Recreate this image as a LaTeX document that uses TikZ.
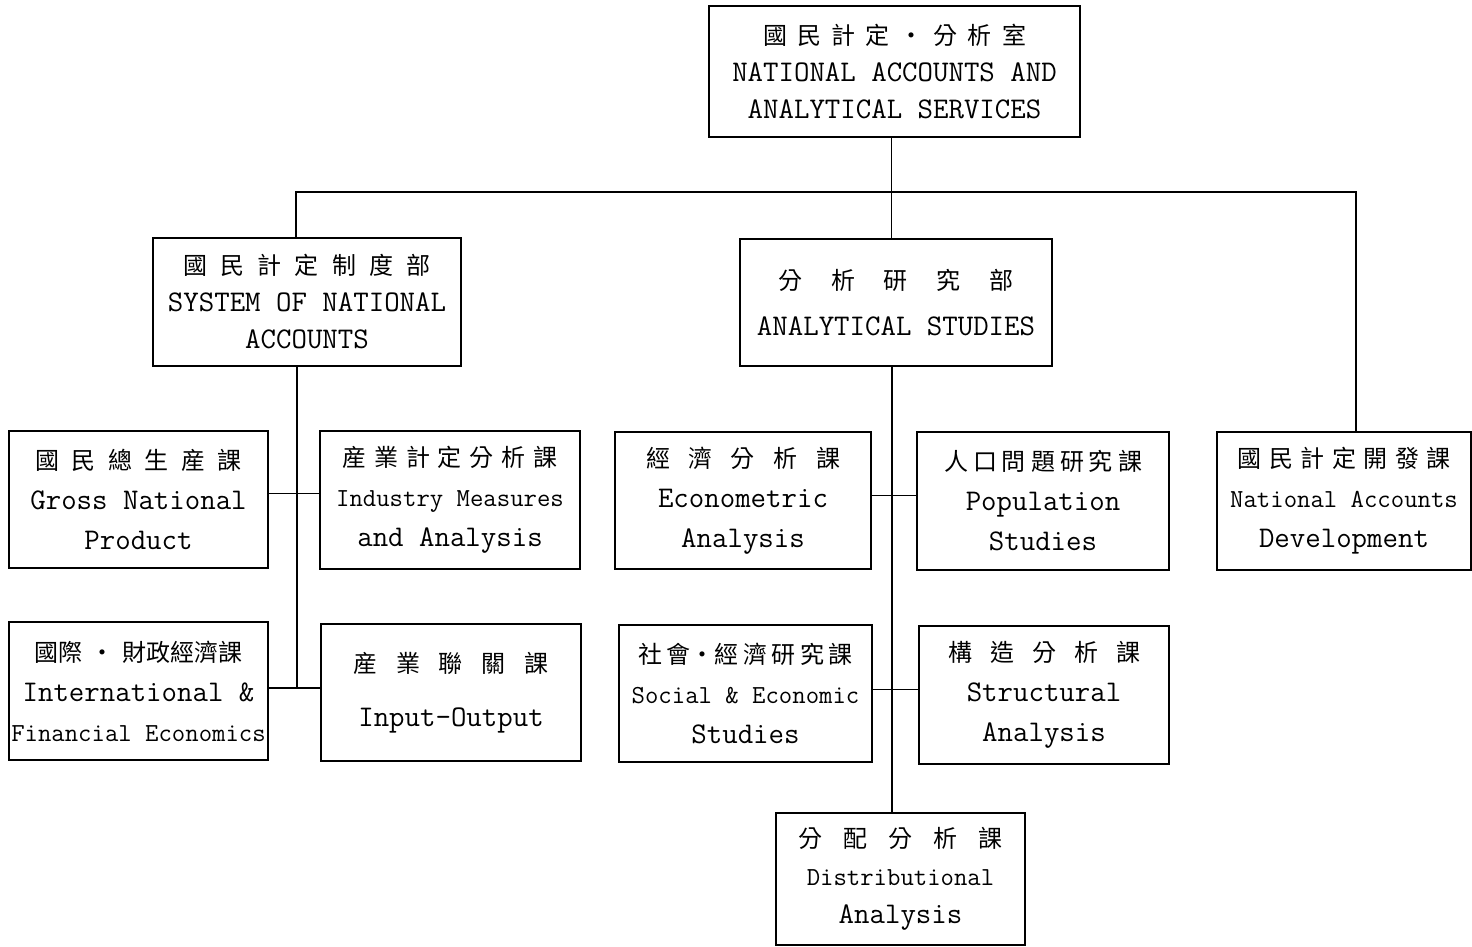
\documentclass[tikz,border=0pt]{standalone}
\usepackage{fontspec}
\newfontfamily\cjkfont{Noto Sans CJK TC}
\newcommand\hanja[2]{{\cjkfont\fontsize{24}{40}\selectfont\spaceskip=0pt plus 1fil\xspaceskip=0pt plus 1fil\makebox[#1][s]{#2}}}
\newcommand\narrow{\fontsize{26}{40}\selectfont}
\tikzset{unit/.style={draw, line width=1.2pt, inner sep=0pt, align=center, font=\ttfamily\fontsize{30}{40}\selectfont}}
\begin{document}
\begin{tikzpicture}[x=1pt, y=-1pt, line width=1.2pt]
\useasboundingbox (0,0) rectangle (1472,946);
\coordinate (bus) at (0,192);
\node[unit, minimum width=371, minimum height=131, font=\ttfamily\fontsize{30}{37}\selectfont] (top) at (894.5,71.5){\hanja{263pt}{國 民 計 定 ・ 分 析 室}\\NATIONAL ACCOUNTS AND\\ANALYTICAL SERVICES};
\node[unit, minimum width=308, minimum height=128, font=\ttfamily\fontsize{30}{37}\selectfont] (sna) at (307,302){\hanja{247pt}{國 民 計 定 制 度 部}\\SYSTEM OF NATIONAL\\ACCOUNTS};
\node[unit, minimum width=312, minimum height=127, font=\ttfamily\fontsize{30}{46}\selectfont] (as) at (896,302.5){\hanja{235pt}{分 析 研 究 部}\\ANALYTICAL STUDIES};
\node[unit, minimum width=259, minimum height=137] (gnp) at (138.5,499.5){\hanja{207pt}{國 民 總 生 産 課}\\Gross National\\Product};
\node[unit, minimum width=260, minimum height=138] (ind) at (450,500){\hanja{215pt}{産 業 計 定 分 析 課}\\{\narrow Industry Measures}\\and Analysis};
\node[unit, minimum width=259, minimum height=138] (intl) at (138.5,691){\hanja{209pt}{國際 ・ 財政經濟課}\\International \&\\{\narrow Financial Economics}};
\node[unit, minimum width=260, minimum height=137, font=\ttfamily\fontsize{30}{54}\selectfont] (io) at (451,692.5){\hanja{195pt}{産 業 聯 關 課}\\Input-Output};
\node[unit, minimum width=256, minimum height=137] (eco) at (743,500.5){\hanja{194pt}{經 濟 分 析 課}\\Econometric\\Analysis};
\node[unit, minimum width=252, minimum height=138] (pop) at (1043,501){\hanja{198pt}{人 口 問 題 研 究 課}\\Population\\Studies};
\node[unit, minimum width=253, minimum height=137] (soc) at (745.5,693.5){\hanja{215pt}{社 會·經 濟 研 究 課}\\{\narrow Social \& Economic}\\Studies};
\node[unit, minimum width=250, minimum height=138] (str) at (1044,695){\hanja{192pt}{構 造 分 析 課}\\Structural\\Analysis};
\node[unit, minimum width=254, minimum height=138] (nad) at (1344,501){\hanja{213pt}{國 民 計 定 開 發 課}\\{\narrow National Accounts}\\Development};
\node[unit, minimum width=249, minimum height=132, font=\ttfamily\fontsize{30}{38}\selectfont] (dist) at (900.5,879){\hanja{205pt}{分 配 分 析 課}\\{\narrow Distributional}\\Analysis};
\coordinate (intljoin) at ([yshift=3pt]intl.east);
\draw ([xshift=-3pt]top.south) -- ([xshift=-3pt]top.south |- as.north);
\draw ([xshift=-11pt]sna.north) |- ([xshift=12pt]nad.north |- bus) -- ([xshift=12pt]nad.north);
\draw ([xshift=-10pt]sna.south) -- ([xshift=-10pt]sna.south |- intljoin);
\draw ([yshift=6pt]gnp.east) -- ([yshift=6pt]gnp.east -| ind.west);
\draw (intljoin) -- (intljoin -| io.west);
\draw ([xshift=-4pt]as.south) -- ([xshift=-4pt]as.south |- dist.north);
\draw ([yshift=5pt]eco.east) -- ([yshift=5pt]eco.east -| pop.west);
\draw ([yshift=4pt]soc.east) -- ([yshift=4pt]soc.east -| str.west);
\end{tikzpicture}
\end{document}
